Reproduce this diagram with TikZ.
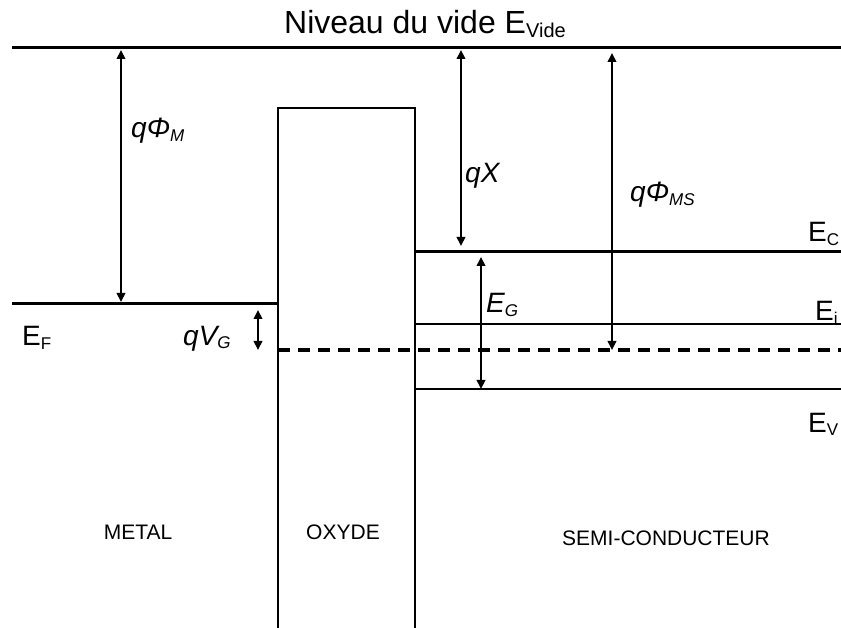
\documentclass[tikz,border=0pt]{standalone}
\usepackage{fontspec}
\setmainfont{Liberation Sans}
\usetikzlibrary{arrows.meta}
\newcommand{\lsub}[1]{\raisebox{-0.12em}{\fontsize{17}{17}\selectfont #1}}
\begin{document}
\begin{tikzpicture}[x=1pt,y=-1pt]
  \tikzset{level/.style={draw=black,line width=3pt},
    wall/.style={draw=black,line width=1.4pt},
    gap/.style={line width=2pt,{Triangle[length=9pt,width=8.5pt]}-{Triangle[length=9pt,width=8.5pt]}},
    lbl/.style={inner sep=0pt,anchor=base west,font=\fontsize{28}{30}\selectfont},
    ilbl/.style={lbl,font=\fontsize{28}{30}\selectfont\itshape},
    zone/.style={inner sep=0pt,font=\fontsize{21}{24}\selectfont}}
  \useasboundingbox (0,0) rectangle (841,628);
  % Vacuum level, metal Fermi level and semiconductor bands.
  \draw[level] (12,48) -- (841,48);
  \draw[level] (12,304) -- (278,304);
  \draw[level] (415,252) -- (841,252);
  \draw[level,line width=2.5pt] (415,324) -- (841,324);
  \draw[level,line width=2.5pt] (415,389) -- (841,389);
  \draw[level,line width=3.6pt,dash pattern=on 12pt off 8pt] (278,350) -- (841,350);
  % Oxide barrier, open at the bottom.
  \draw[wall] (278,628) |- (415,108) -- (415,628);
  % End points of the energy gaps.
  \coordinate (phiMtop) at (121,50);
  \coordinate (phiMbot) at (121,302);
  \coordinate (vgTop) at (258,310);
  \coordinate (vgBot) at (258,350);
  \coordinate (chiTop) at (461,50);
  \coordinate (chiBot) at (461,246);
  \coordinate (phiStop) at (612,53);
  \coordinate (phiSbot) at (612,350);
  \coordinate (egTop) at (481,257);
  \coordinate (egBot) at (481,389);
  \draw[gap] (phiMtop) -- (phiMbot);
  \draw[gap] (vgTop) -- (vgBot);
  \draw[gap] (chiTop) -- (chiBot);
  \draw[gap] (phiStop) -- (phiSbot);
  \draw[gap] (egTop) -- (egBot);
  % Labels.
  \node[inner sep=0pt,anchor=base,font=\fontsize{32}{34}\selectfont] (vide) at (425,34)
    {Niveau du vide E\raisebox{-4pt}{\fontsize{20}{20}\selectfont Vide}};
  \node[ilbl] (qphim) at (131,138) {qΦ\lsub{M}};
  \node[lbl] (ef) at (22,346) {E\lsub{F}};
  \node[ilbl] (qvg) at (183,345) {qV\lsub{G}};
  \node[ilbl] (qchi) at (465,183) {qX};
  \node[ilbl] (qphims) at (630,202) {qΦ\lsub{MS}};
  \node[ilbl] (eg) at (486,313) {E\lsub{G}};
  \node[lbl] (ec) at (808,242) {E\lsub{C}};
  \node[lbl] (ei) at (815,321) {E\lsub{i}};
  \node[lbl] (ev) at (808,432) {E\lsub{V}};
  \node[zone] (metal) at (138,532) {METAL};
  \node[zone] (oxyde) at (343,532) {OXYDE};
  \node[zone] (semi) at (666,538) {SEMI-CONDUCTEUR};
\end{tikzpicture}
\end{document}
